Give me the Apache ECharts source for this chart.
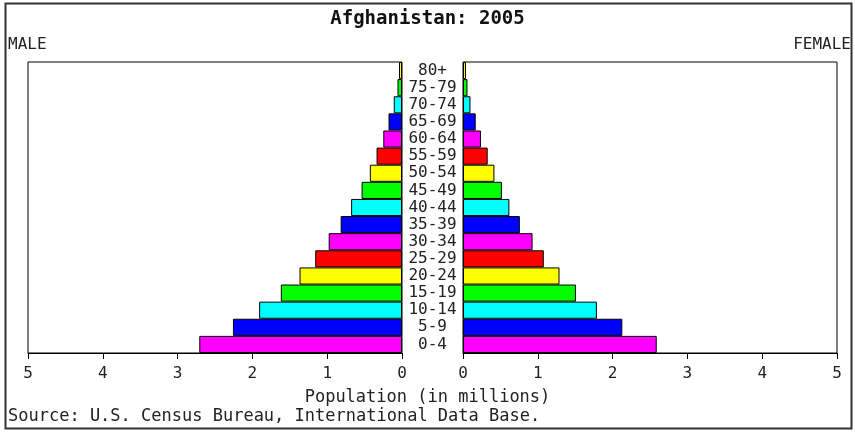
<!DOCTYPE html>
<html>
<head>
<meta charset="utf-8">
<script src="https://cdn.jsdelivr.net/npm/echarts@6/dist/echarts.min.js"></script>
<style>
html,body{margin:0;padding:0;background:#fff;}
#chart{width:855px;height:433px;}
</style>
</head>
<body>
<div id="chart"></div>
<script>
const ageGroups = ['0-4','5-9','10-14','15-19','20-24','25-29','30-34','35-39','40-44','45-49','50-54','55-59','60-64','65-69','70-74','75-79','80+'];
const maleValues = [2.71,2.26,1.91,1.62,1.37,1.16,0.98,0.82,0.68,0.54,0.43,0.34,0.25,0.18,0.11,0.06,0.04];
const femaleValues = [2.59,2.13,1.79,1.51,1.29,1.08,0.93,0.76,0.62,0.52,0.42,0.33,0.24,0.17,0.10,0.06,0.04];
const titleText = 'Afghanistan: 2005';
const axisTitle = 'Population (in millions)';
const sourceText = 'Source: U.S. Census Bureau, International Data Base.';

const palette = ['#FF00FF','#0000FF','#00FFFF','#00FF00','#FFFF00','#FF0000'];
const FONT = 'DejaVu Sans Mono';
const txt = '#222';

const chart = echarts.init(document.getElementById('chart'), null, {renderer:'canvas'});
const barColor = p => palette[p.dataIndex % palette.length];
const xAxisCommon = {
  type:'value', min:0, max:5, interval:1,
  splitLine:{show:false},
  axisLine:{show:true, lineStyle:{color:'#000', width:1}},
  axisTick:{show:true, length:6, lineStyle:{color:'#000'}},
  axisLabel:{color:txt, fontFamily:FONT, fontSize:16, margin:13}
};
chart.setOption({
  animation:false,
  backgroundColor:'#fff',
  title:[
    {text:titleText, left:'center', top:10, padding:0, textStyle:{fontFamily:FONT, fontSize:19, fontWeight:'bold', color:'#111'}},
    {text:'MALE', left:8, top:37, padding:0, textStyle:{fontFamily:FONT, fontSize:16, fontWeight:'normal', color:txt}},
    {text:'FEMALE', right:4, top:37, padding:0, textStyle:{fontFamily:FONT, fontSize:16, fontWeight:'normal', color:txt}},
    {text:axisTitle, left:'center', top:389, padding:0, textStyle:{fontFamily:FONT, fontSize:17, fontWeight:'normal', color:txt}},
    {text:sourceText, left:8, top:408, padding:0, textStyle:{fontFamily:FONT, fontSize:17, fontWeight:'normal', color:txt}}
  ],
  graphic:[{type:'rect', shape:{x:5.5,y:3.5,width:846,height:425}, style:{fill:'none', stroke:'#333', lineWidth:2}, silent:true, z:100}],
  grid:[
    {left:28, top:62, width:374, height:291, show:true, borderColor:'#000', borderWidth:1, backgroundColor:'transparent'},
    {left:463, top:62, width:374, height:291, show:true, borderColor:'#000', borderWidth:1, backgroundColor:'transparent'}
  ],
  xAxis:[
    Object.assign({gridIndex:0, inverse:true}, xAxisCommon),
    Object.assign({gridIndex:1}, xAxisCommon)
  ],
  yAxis:[
    {type:'category', gridIndex:0, data:ageGroups, position:'right',
     axisLine:{show:false}, axisTick:{show:false},
     axisLabel:{align:'center', margin:30.5, color:txt, fontFamily:FONT, fontSize:16, interval:0}},
    {type:'category', gridIndex:1, data:ageGroups,
     axisLine:{show:false}, axisTick:{show:false}, axisLabel:{show:false}}
  ],
  series:[
    {type:'bar', name:'Male', xAxisIndex:0, yAxisIndex:0, data:maleValues, barCategoryGap:'0%',
     itemStyle:{color:barColor, borderColor:'#000', borderWidth:1}},
    {type:'bar', name:'Female', xAxisIndex:1, yAxisIndex:1, data:femaleValues, barCategoryGap:'0%',
     itemStyle:{color:barColor, borderColor:'#000', borderWidth:1}}
  ]
});
</script>
</body>
</html>
